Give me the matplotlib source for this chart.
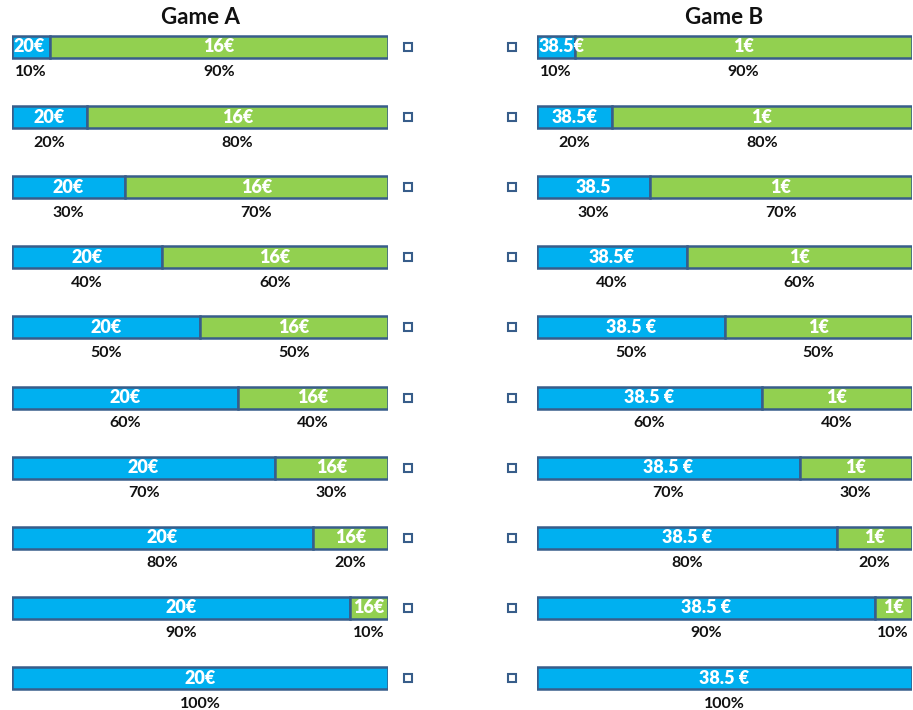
import numpy as np
import matplotlib
matplotlib.use("Agg")
from matplotlib import pyplot as plt

plt.rcParams['font.family'] = ['Lato', 'DejaVu Sans']
plt.rcParams['font.weight'] = 'bold'

# share of the blue outcome in every row (%)
blue_pct = [10, 20, 30, 40, 50, 60, 70, 80, 90, 100]
green_pct = [100 - p for p in blue_pct]

titles = ["Game A", "Game B"]
blue_labels_a = ["20€"] * 10
green_labels_a = ["16€"] * 10
blue_labels_b = ["38.5€", "38.5€", "38.5", "38.5€"] + ["38.5 €"] * 6
green_labels_b = ["1€"] * 10

BLUE = "#00B0F0"
GREEN = "#92D050"
EDGE = "#385D8A"

W, H = 913, 710
fig = plt.figure(figsize=(W / 100, H / 100), dpi=100)

# row spacing in pixels (first row centre at 47 px, last at 678 px)
step = (678 - 47) / 9
ylim = ((H - 47) / step, -47 / step)
bar_h = 22 / step
pct_off = 25.5 / step
title_y = (17 - 47) / step

panels = [
    (12, 388, blue_labels_a, green_labels_a, 1.052),
    (537, 912, blue_labels_b, green_labels_b, -0.067),
]

rows = np.arange(len(blue_pct))
b = np.array(blue_pct) / 100
g = np.array(green_pct) / 100

for (x0, x1, bl, gl, box_x), title in zip(panels, titles):
    ax = fig.add_axes([x0 / W, 0, (x1 - x0) / W, 1])
    ax.set_xlim(0, 1)
    ax.set_ylim(*ylim)
    ax.axis('off')

    ax.barh(rows, b, height=bar_h, color=BLUE, edgecolor=EDGE, linewidth=1.8)
    ax.barh(rows[g > 0], g[g > 0], left=b[g > 0], height=bar_h,
            color=GREEN, edgecolor=EDGE, linewidth=1.8)

    for i in rows:
        cb = b[i] / 2
        if b[i] < 0.15:
            # narrow first segment: label starts at the bar's left edge
            ax.text(0.005, i, bl[i], color='white', fontsize=13, fontweight='heavy',
                    ha='left', va='center')
        else:
            ax.text(cb, i, bl[i], color='white', fontsize=13, fontweight='heavy',
                    ha='center', va='center')
        ax.text(cb, i + pct_off, f"{blue_pct[i]}%", color='#111111', fontsize=11.5,
                ha='center', va='center')
        if green_pct[i] > 0:
            cg = b[i] + g[i] / 2
            ax.text(cg, i, gl[i], color='white', fontsize=13, fontweight='heavy',
                    ha='center', va='center')
            ax.text(cg, i + pct_off, f"{green_pct[i]}%", color='#111111', fontsize=11.5,
                    ha='center', va='center')

    ax.plot(np.full(len(rows), box_x), rows, ls='none', marker='s', markersize=5.5,
            markerfacecolor='white', markeredgecolor=EDGE, markeredgewidth=1.5,
            clip_on=False)

    ax.text(0.5, title_y, title, fontsize=16, ha='center', va='center', color='#111111')

fig.savefig("out.png", dpi=100, facecolor='white')
